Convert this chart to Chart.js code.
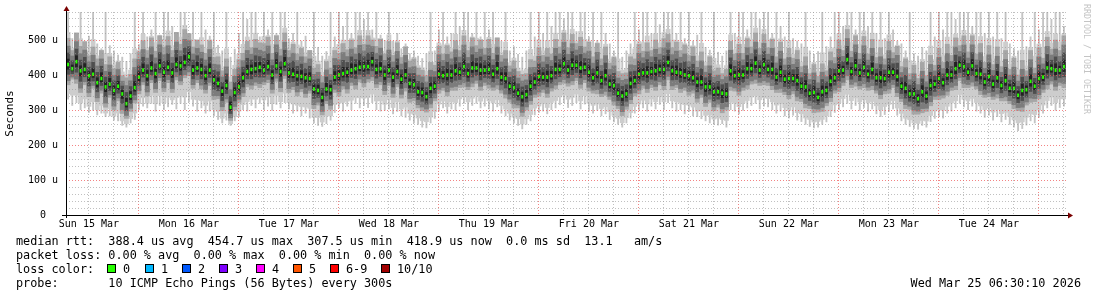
<!DOCTYPE html>
<html>
<head>
<meta charset="utf-8">
<script src="https://cdn.jsdelivr.net/npm/chart.js@4/dist/chart.umd.min.js"></script>
<style>
  body { margin: 0; background: #fff; }
  #wrap { position: relative; width: 1097px; height: 297px; overflow: hidden; font-family: 'DejaVu Sans Mono', monospace; }
  #chart { position: absolute; left: 0; top: 0; }
  .line { position: absolute; left: 16px; font-size: 11.8px; line-height: 14px; white-space: pre; color: #000; }
  .sq { position: absolute; width: 7px; height: 7px; border: 1px solid #000; }
  .lbl { position: absolute; font-size: 11.8px; line-height: 14px; white-space: pre; }
  #stamp { position: absolute; right: 16px; top: 276px; font-size: 11.8px; line-height: 14px; white-space: pre; }
  #wm { position: absolute; left: 1082px; top: 4px; writing-mode: vertical-rl; font-size: 8.3px; color: #c4c4c4; white-space: pre; }
</style>
</head>
<body>
<div id="wrap">
  <canvas id="chart" width="1097" height="297"></canvas>
  <div class="line" style="top:234px">median rtt:  388.4 us avg  454.7 us max  307.5 us min  418.9 us now  0.0 ms sd  13.1   am/s</div>
  <div class="line" style="top:248px">packet loss: 0.00 % avg  0.00 % max  0.00 % min  0.00 % now</div>
  <div class="line" style="top:262px">loss color:</div>
  <div class="line" style="top:276px">probe:       10 ICMP Echo Pings (56 Bytes) every 300s</div>
  <div id="stamp">Wed Mar 25 06:30:10 2026</div>
  <div id="wm">RRDTOOL / TOBI OETIKER</div>
</div>
<script>
// etiquetas de días (mediodía de cada día)
const dayLabels = ['Sun 15 Mar', 'Mon 16 Mar', 'Tue 17 Mar', 'Wed 18 Mar', 'Thu 19 Mar',
  'Fri 20 Mar', 'Sat 21 Mar', 'Sun 22 Mar', 'Mon 23 Mar', 'Tue 24 Mar'];

// mediana por hora (us), desde Sun 15 Mar 06:30
const med = [
  430,418,438,412,416,398,402,378,390,366,374,356,
  368,346,318,340,364,394,414,398,420,404,426,408,
  422,406,430,426,436,452,414,420,416,398,414,386,
  376,354,370,308,350,366,392,410,416,418,422,414,
  424,400,426,410,432,406,402,398,396,392,390,360,
  356,336,360,358,394,400,404,408,414,418,422,424,
  424,438,416,418,400,414,394,410,388,400,376,372,
  352,350,338,362,368,402,398,400,400,412,408,424,
  404,420,420,414,414,416,402,418,394,390,368,364,
  348,338,344,368,380,396,394,394,398,416,416,432,
  414,428,428,420,422,408,392,406,384,398,374,370,
  348,340,346,376,384,402,406,406,410,412,416,416,
  436,412,408,406,400,398,392,380,380,366,366,352,
  352,348,346,412,398,400,400,418,418,434,414,430,
  416,416,394,408,388,390,390,384,368,366,348,350,
  336,352,356,382,392,412,414,444,410,426,406,422,
  402,416,392,392,390,408,408,396,368,362,346,346,
  332,352,340,370,374,390,378,400,400,418,428,424,
  408,426,404,402,380,396,374,392,370,384,362,362,
  342,356,358,382,368,390,394,420,418,414,414,424
];

// ping máximo por hora
const maxPing = [
  590,505,520,590,498,512,590,490,476,590,485,470,
  458,452,440,462,590,488,590,510,530,590,515,590,
  590,540,505,590,590,520,590,498,590,530,512,590,
  486,470,590,452,475,520,590,560,590,590,510,590,
  530,590,520,590,590,505,520,590,498,512,470,590,
  480,455,468,590,510,590,540,590,520,590,590,560,
  590,530,590,515,500,590,498,520,476,490,462,470,
  455,448,462,590,470,530,590,510,520,590,540,590,
  590,520,590,510,590,530,590,505,498,590,470,482,
  460,452,470,590,510,590,520,590,540,590,590,560,
  590,590,525,590,590,510,590,500,590,520,490,470,
  590,452,470,490,590,530,590,590,520,590,545,590,
  590,590,520,590,505,590,498,515,590,480,472,590,
  466,455,470,590,520,590,590,530,590,590,560,590,
  590,520,590,540,510,590,505,498,490,590,470,460,
  468,590,482,510,590,590,540,590,590,530,590,590,
  540,590,520,590,505,590,530,498,490,470,590,462,
  455,480,470,590,510,590,530,590,590,560,590,590,
  590,540,590,590,520,590,510,590,505,590,490,476,
  470,590,482,510,590,530,590,590,560,590,590,540
];

// ping mínimo por hora
const minPing = [
  330,312,320,300,305,292,298,285,290,280,282,270,
  268,255,250,262,272,300,310,305,318,296,312,300,
  308,315,302,318,300,322,310,296,305,290,296,282,
  272,262,270,255,268,280,300,296,312,305,318,300,
  310,298,315,305,320,302,290,296,282,290,276,262,
  255,252,260,270,292,305,296,310,300,318,305,312,
  306,320,300,296,298,302,288,295,282,278,270,262,
  258,250,248,262,275,296,305,290,302,298,310,318,
  300,312,318,305,310,302,296,308,290,282,270,262,
  255,245,258,268,285,292,296,288,300,305,314,320,
  306,312,320,302,316,296,290,298,282,288,272,265,
  258,250,262,276,290,298,305,296,310,302,315,300,
  320,305,296,300,288,295,282,280,274,268,262,258,
  256,260,250,300,296,288,298,305,312,318,302,310,
  308,300,290,296,282,276,284,270,266,258,252,248,
  250,258,265,280,292,300,308,318,302,312,298,306,
  296,302,288,280,286,295,302,284,268,258,252,246,
  244,255,250,266,275,280,276,290,296,305,318,308,
  300,310,296,290,278,284,270,280,265,272,258,250,
  240,246,256,268,262,278,290,305,312,298,306,310
];

// percentiles superior / inferior aproximados
const upperQ = [
  505,470,520,482,495,455,480,446,470,430,452,418,
  436,398,392,402,446,466,498,470,506,468,512,480,
  510,470,522,488,530,518,480,500,486,462,498,450,
  452,412,446,380,416,444,462,496,478,502,492,490,
  508,462,512,474,520,470,488,460,476,452,470,420,
  430,396,438,420,470,462,490,472,500,478,512,488,
  512,500,482,502,460,496,456,492,450,480,440,446,
  420,414,398,436,428,482,460,484,466,498,470,512,
  470,506,484,500,476,502,462,506,456,470,426,440,
  410,402,404,444,440,478,456,476,460,502,480,520,
  478,516,490,508,480,494,452,490,446,480,434,450,
  410,404,406,452,446,488,468,492,470,500,478,504,
  516,478,494,470,486,456,480,440,466,426,452,412,
  420,404,416,496,460,488,462,504,480,520,476,516,
  478,502,452,494,446,476,448,470,424,452,404,430,
  396,432,412,466,450,500,470,530,468,512,462,510,
  460,502,450,478,446,496,464,482,424,446,404,428,
  390,436,398,456,428,476,436,488,456,506,484,512,
  466,512,460,490,436,484,430,480,424,470,416,448,
  400,442,412,470,420,478,448,508,474,500,470,512
];
const lowerQ = [
  372,388,376,350,372,338,362,324,348,308,336,300,
  326,290,276,296,320,346,372,340,378,350,384,352,
  378,350,386,372,392,398,362,378,360,348,370,330,
  332,298,322,270,300,322,338,366,360,370,364,372,
  378,348,382,352,390,350,358,340,352,336,348,304,
  314,286,318,302,350,340,360,348,370,360,380,366,
  380,384,364,372,344,370,336,366,334,354,322,326,
  306,298,294,306,326,348,356,340,356,356,364,366,
  358,366,376,356,370,362,356,360,348,334,322,306,
  306,282,300,316,336,340,350,336,354,360,372,376,
  368,372,384,362,378,354,348,346,338,342,330,314,
  304,284,302,318,340,346,362,350,364,356,372,358,
  386,358,364,350,356,342,348,322,336,310,322,298,
  308,292,300,356,354,342,356,360,374,376,370,372,
  370,358,350,350,344,332,346,326,324,306,304,292,
  294,296,312,324,348,352,370,386,364,368,360,364,
  356,358,348,332,346,348,364,338,324,304,302,288,
  288,292,296,312,330,330,334,342,356,358,384,364,
  364,368,360,344,336,338,330,334,326,326,318,304,
  298,296,314,322,324,332,350,360,374,356,370,364
];

// colores de pérdida
const lossLabels = ['0', '1', '2', '3', '4', '5', '6-9', '10/10'];
const lossColors = ['#26ff00', '#00b8ff', '#0059ff', '#7e00ff', '#ff00ff', '#ff5500', '#ff0000', '#a10000'];
const lossX = [107, 145, 182, 219, 256, 293, 330, 381];

const wrap = document.getElementById('wrap');
lossLabels.forEach((l, i) => {
  const sq = document.createElement('div');
  sq.className = 'sq';
  sq.style.left = lossX[i] + 'px';
  sq.style.top = '264px';
  sq.style.background = lossColors[i];
  wrap.appendChild(sq);
  const t = document.createElement('div');
  t.className = 'lbl';
  t.style.left = (lossX[i] + 16) + 'px';
  t.style.top = '262px';
  t.textContent = l;
  wrap.appendChild(t);
});

// posiciones en horas y capas de humo
const hours = med.map((_, i) => i + 0.5);
const band = (lo, hi) => hours.map((h, i) => ({ x: h, y: [lo[i], hi[i]] }));
const layer = (fl, fh) => band(
  med.map((m, i) => m - (m - lowerQ[i]) * fl),
  med.map((m, i) => m + (upperQ[i] - m) * fh)
);
const baseLo = lowerQ.map((q, i) => q - (q - minPing[i]) * 0.6);
const baseHi = upperQ.map((q, i) => q + (maxPing[i] - q) * 0.2);

const tickHours = [];
for (let h = 5.5; h < 240; h += 6) tickHours.push(h);
const yTicks = [];
for (let v = 0; v <= 580; v += 20) yTicks.push(v);

const monoFont = 'DejaVu Sans Mono';
const redGrid = 'rgba(240,90,90,0.75)';
const greyGrid = 'rgba(150,150,150,0.6)';

const barOpts = { type: 'bar', grouped: false, categoryPercentage: 1, barPercentage: 1, borderWidth: 0 };

const arrows = {
  id: 'arrows',
  afterDraw(chart) {
    const ctx = chart.ctx;
    const a = chart.chartArea;
    ctx.save();
    ctx.strokeStyle = '#000';
    ctx.lineWidth = 1;
    ctx.beginPath();
    ctx.moveTo(62, a.bottom + 0.5);
    ctx.lineTo(a.right + 4, a.bottom + 0.5);
    ctx.moveTo(a.left + 0.5, a.bottom + 3);
    ctx.lineTo(a.left + 0.5, a.top - 2);
    ctx.stroke();
    ctx.fillStyle = '#7a0000';
    ctx.beginPath();
    ctx.moveTo(a.left - 2.5, a.top - 1);
    ctx.lineTo(a.left + 3.5, a.top - 1);
    ctx.lineTo(a.left + 0.5, a.top - 6);
    ctx.closePath();
    ctx.fill();
    ctx.beginPath();
    ctx.moveTo(a.right + 2, a.bottom - 2.5);
    ctx.lineTo(a.right + 2, a.bottom + 3.5);
    ctx.lineTo(a.right + 7, a.bottom + 0.5);
    ctx.closePath();
    ctx.fill();
    ctx.restore();
  }
};

new Chart(document.getElementById('chart').getContext('2d'), {
  data: {
    datasets: [
      { type: 'line', data: hours.map((h, i) => ({ x: h, y: med[i] })), showLine: false,
        pointStyle: 'line', pointRotation: 90, pointRadius: 1.8, pointBorderWidth: 2,
        pointBorderColor: '#26ff00', pointBackgroundColor: '#26ff00', order: 0 },
      { ...barOpts, data: layer(0.25, 0.22), backgroundColor: '#222222', barPercentage: 0.7, order: 1 },
      { ...barOpts, data: layer(0.5, 0.45), backgroundColor: '#4e4e4e', barPercentage: 0.85, order: 2 },
      { ...barOpts, data: layer(0.8, 0.7), backgroundColor: '#7c7c7c', order: 3 },
      { ...barOpts, data: band(lowerQ, upperQ), backgroundColor: '#a6a6a6', order: 4 },
      { ...barOpts, data: band(baseLo, baseHi), backgroundColor: '#cdcdcd', order: 5 },
      { ...barOpts, data: band(minPing, maxPing), backgroundColor: '#c4c4c4', barPercentage: 0.45, order: 6 },
    ],
  },
  options: {
    responsive: false,
    animation: false,
    devicePixelRatio: 1,
    layout: { padding: { top: 12, right: 31, left: 0, bottom: 0 } },
    plugins: { legend: { display: false }, tooltip: { enabled: false } },
    scales: {
      x: {
        type: 'linear', min: 0, max: 240, position: 'bottom', offset: false,
        afterBuildTicks: s => { s.ticks = tickHours.map(v => ({ value: v })); },
        afterFit: s => { s.height = 82; s.paddingLeft = 0; s.paddingRight = 0; },
        ticks: {
          autoSkip: false, maxRotation: 0, padding: 3, color: '#000',
          font: { family: monoFont, size: 10 },
          callback: v => ((v - 5.5) % 24 === 0 ? dayLabels[(v - 5.5) / 24] : ''),
        },
        grid: {
          z: 1, drawTicks: false, offset: false,
          color: c => (c.tick && (c.tick.value - 17.5) % 24 === 0 ? redGrid : greyGrid),
        },
        border: { display: false, dash: [1, 2] },
      },
      y: {
        type: 'linear', min: 0, max: 580,
        afterBuildTicks: s => { s.ticks = yTicks.map(v => ({ value: v })); },
        afterFit: s => { s.width = 66; s.paddingTop = 0; s.paddingBottom = 0; },
        ticks: {
          autoSkip: false, padding: 8, color: '#000',
          font: { family: monoFont, size: 10 },
          callback: v => (v % 100 !== 0 ? '' : (v === 0 ? '0  ' : v + ' u')),
        },
        grid: {
          z: 1, drawTicks: false,
          color: c => (c.tick && c.tick.value % 100 === 0 ? redGrid : greyGrid),
        },
        border: { display: false, dash: [1, 2] },
        title: { display: true, text: 'Seconds', color: '#000', font: { family: monoFont, size: 11 }, padding: { top: 4, bottom: 0 } },
      },
    },
  },
  plugins: [arrows],
});
</script>
</body>
</html>
